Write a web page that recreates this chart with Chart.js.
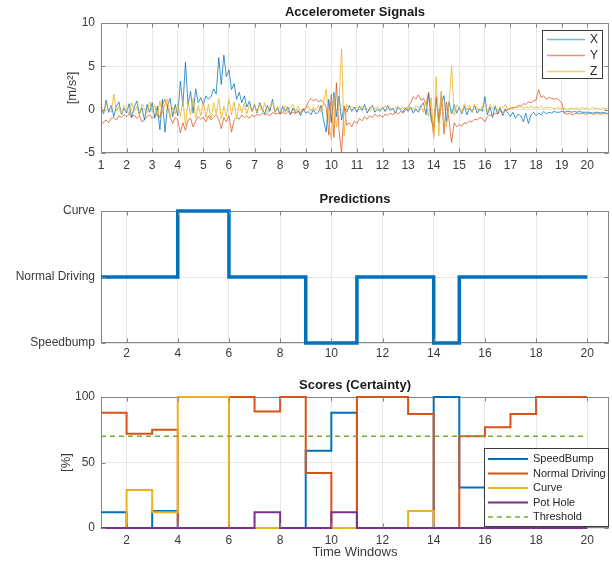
<!DOCTYPE html>
<html>
<head>
<meta charset="utf-8">
<title>Accelerometer Signals / Predictions / Scores</title>
<script src="https://cdn.jsdelivr.net/npm/chart.js@4.4.1/dist/chart.umd.min.js"></script>
<style>
  body { margin: 0; background: #fff; }
  #wrap { position: relative; width: 612px; height: 566px; }
  canvas { position: absolute; left: 0; display: block; }
</style>
</head>
<body>
<div id="wrap">
  <canvas id="accelChart" width="612" height="185" style="top:0"></canvas>
  <canvas id="predChart" width="612" height="185" style="top:185px"></canvas>
  <canvas id="scoreChart" width="612" height="196" style="top:370px"></canvas>
</div>
<script>
// --- accelerometer samples (one value every 0.1 window) ---
const accelStart = 1;
const accelStep = 0.1;
const accelX = [
  0.3, -0.5, 1.1, -0.3, 0.5, -0.8, 0.4, 0.9, -0.6, 0.2,
  -0.4, 0.7, -0.9, 0.3, 1.0, -0.5, 0.2, -1.2, 0.6, -0.3,
  0.8, -1.0, 0.4, -2.3, 1.2, -2.6, 0.5, 1.3, -0.8, 0.6,
  -0.7, 3.3, 0.4, 5.5, 0.6, 2.1, -0.4, 2.4, 0.8, 1.4,
  0.6, 1.6, 1.2, 1.5, 2.4, 1.8, 6.0, 2.9, 6.3, 3.8,
  4.6, 2.3, 3.0, 1.2, 2.0, 0.8, 1.6, 0.3, 1.0, -0.2,
  0.6, -0.4, 0.8, 0.1, -0.5, 0.5, -0.2, 1.2, -0.3, 0.2,
  -0.5, 0.4, -0.2, 0.3, -0.6, 0.2, -0.4, -0.1, -0.7, 0.1,
  -0.4, -0.2, -0.6, 0.0, -0.5, -0.3, 0.5, -1.3, -2.6, 1.2,
  -1.5, 2.0, -0.8, 1.6, -1.2, 0.4, -0.3, 0.5, -0.2, 0.3,
  -0.3, 0.4, -0.1, 0.6, -0.4, 0.2, 0.5, -0.3, 0.1, -0.2,
  0.3, -0.2, 0.5, -0.1, 0.2, -0.4, 0.3, 0.0, -0.3, 0.2,
  -0.2, 0.3, -0.4, 0.1, -0.3, 0.4, 0.8, -0.6, 1.9, -1.2,
  -2.0, 1.3, -1.5, 0.6, 1.6, -1.4, 0.9, -0.5, 0.6, -0.4,
  0.3, -0.5, 0.4, -0.6, 0.2, -0.3, 0.5, -0.4, 0.1, -0.2,
  1.5, -0.6, 0.3, -0.9, 0.4, -0.5, 0.2, -0.7, 0.1, -0.4,
  -0.8, -0.3, -1.0, -0.5, -0.7, -1.4, -0.4, -1.6, -0.6, -0.3,
  -0.7, -0.4, -0.6, -0.2, -0.5, -0.3, -0.4, -0.2, -0.3, -0.3,
  -0.2, -0.3, -0.2, -0.2, -0.3, -0.2, -0.3, -0.2, -0.3, -0.3,
  -0.3, -0.3, -0.4, -0.3, -0.3, -0.4, -0.3, -0.4, -0.4
];
const accelY = [
  -1.8, -1.4, -1.2, -1.5, -1.0, -0.9, -1.2, -0.7, -0.9, -0.6,
  -0.8, -0.5, -0.9, -0.6, -1.0, -0.7, -1.4, -1.2, -0.8, -0.6,
  -1.0, -0.7, -0.5, -0.9, 0.6, 1.2, 0.3, -0.8, -1.6, -0.9,
  -1.2, -2.7, -1.5, -2.4, -1.2, -1.0, -2.0, -1.3, -0.8, -1.1,
  -0.9, -1.4, -0.7, -1.2, -0.9, -0.6, -1.1, -2.2, -0.9, -1.4,
  -0.7, -2.6, -1.2, -0.9, -1.1, -0.6, -0.9, -0.7, -1.0, -0.6,
  -0.8, -0.5, -0.7, -0.4, -0.6, -0.5, -0.7, -0.3, -0.5, -0.4,
  -0.5, -0.3, -0.5, -0.2, -0.4, -0.3, -0.5, -0.2, -0.4, -0.1,
  0.2, 0.9, 1.3, 1.0, 1.2, 0.9, 1.1, 0.8, 0.3, -2.9,
  1.8, -3.2, 3.1, -2.4, -5.0, 0.4, -1.8, -1.5, -2.0, -1.3,
  -1.6, -1.0, -1.3, -0.8, -1.1, -0.7, -0.9, -0.5, -0.8, -0.6,
  -0.9, -0.5, -0.7, -0.4, -0.6, -0.3, -0.5, -0.2, -0.4, -0.1,
  0.3, 0.8, 1.5, 1.2, 1.7, 1.1, 1.3, 0.6, 2.0, -0.5,
  -3.0, 1.5, -1.0, 2.1, -2.8, 0.9, -1.2, -3.8, -1.5, -2.0,
  -1.7, -1.9, -1.5, -1.6, -1.3, -1.4, -1.1, -1.2, -0.9, -1.0,
  -1.4, -0.8, -0.6, -0.7, -0.4, -0.5, -0.2, -0.3, -0.1, 0.0,
  0.1, 0.3, 0.2, 0.5, 0.4, 0.7, 0.6, 0.9, 0.8, 1.0,
  1.1, 2.3, 1.4, 1.6, 1.2, 1.4, 1.3, 1.2, 1.3, 1.1,
  0.8, -0.4, -0.5, -0.4, -0.6, -0.5, -0.4, -0.5, -0.4, -0.5,
  -0.5, -0.4, -0.5, -0.5, -0.4, -0.5, -0.5, -0.4, -0.5
];
const accelZ = [
  0.1, -0.4, 0.6, 0.0, -0.3, 1.8, -0.2, 0.4, -0.6, 0.5,
  0.2, -0.5, 0.8, -0.2, 0.4, -0.7, 0.6, 0.1, -0.4, 0.9,
  -0.3, 0.5, -0.8, 1.0, -0.4, 0.7, 1.2, -0.9, 0.3, -0.5,
  0.6, -0.8, 1.1, -1.8, 0.9, -0.6, 1.3, -1.0, 0.5, -0.7,
  1.0, -0.9, 0.6, -1.2, 0.8, -0.5, 1.3, -1.1, 0.4, -0.8,
  1.2, -0.6, 0.9, -1.0, 0.7, -0.4, 0.8, -0.5, 0.6, -0.2,
  0.5, -0.3, 0.6, -0.2, 0.8, -0.4, 0.3, 0.9, -0.3, 0.4,
  0.2, -0.4, 0.5, -0.1, 0.3, 0.6, -0.2, 0.4, -0.3, 0.2,
  0.1, 0.4, -0.2, 0.3, 0.0, 0.5, -0.3, 0.8, 2.4, -1.2,
  -3.5, 1.5, -2.0, 0.8, 7.0, -3.0, 0.6, 0.2, 0.4, 0.1,
  0.3, 0.0, 0.4, 0.1, 0.2, -0.1, 0.3, 0.1, 0.4, 0.0,
  0.2, 0.4, 0.1, 0.3, 0.0, 0.2, 0.4, 0.1, 0.3, 0.2,
  0.1, 0.3, 0.0, 0.4, 0.2, 0.5, -0.3, 0.9, -0.8, 1.4,
  -3.3, 3.8, -3.0, 2.0, -1.2, -2.0, 0.8, 5.0, -0.6, 0.5,
  0.3, -0.4, 0.7, 0.0, 0.5, -0.3, 0.6, 0.2, -0.2, 0.4,
  0.8, -0.3, 0.6, 0.1, 0.5, -0.2, 0.4, 0.2, 0.6, 0.0,
  0.3, 0.1, 0.4, 0.2, 0.5, 0.1, 0.3, 0.2, 0.4, 0.2,
  0.3, 0.2, 0.4, 0.1, 0.3, 0.2, 0.3, 0.1, 0.2, 0.2,
  0.1, 0.2, 0.0, 0.1, 0.2, 0.1, 0.2, 0.0, 0.3, 0.1,
  0.2, 0.0, 0.3, 0.1, 0.2, 0.0, 0.2, 0.1, 0.2
];
const accelTicksX = [1, 2, 3, 4, 5, 6, 7, 8, 9, 10, 11, 12, 13, 14, 15, 16, 17, 18, 19, 20];
const accelTicksY = [-5, 0, 5, 10];

// --- predictions per time window ---
const windows = [1, 2, 3, 4, 5, 6, 7, 8, 9, 10, 11, 12, 13, 14, 15, 16, 17, 18, 19, 20];
const predLevels = ['Speedbump', 'Normal Driving', 'Curve'];
const predictions = [
  'Normal Driving', 'Normal Driving', 'Normal Driving', 'Curve', 'Curve',
  'Normal Driving', 'Normal Driving', 'Normal Driving', 'Speedbump', 'Speedbump',
  'Normal Driving', 'Normal Driving', 'Normal Driving', 'Speedbump', 'Normal Driving',
  'Normal Driving', 'Normal Driving', 'Normal Driving', 'Normal Driving', 'Normal Driving'
];
const windowTicks = [2, 4, 6, 8, 10, 12, 14, 16, 18, 20];

// --- scores (%) per time window ---
const scoreSpeedBump = [12, 0, 13, 0, 0, 0, 0, 0, 59, 88, 0, 0, 0, 100, 31, 23, 13, 0, 0, 0];
const scoreNormal    = [88, 72, 75, 0, 0, 100, 89, 100, 42, 0, 100, 100, 87, 0, 70, 77, 87, 100, 100, 100];
const scoreCurve     = [0, 29, 12, 100, 100, 0, 0, 0, 0, 0, 0, 0, 13, 0, 0, 0, 0, 0, 0, 0];
const scorePotHole   = [0, 0, 0, 0, 0, 0, 12, 0, 0, 12, 0, 0, 0, 0, 0, 0, 0, 0, 0, 0];
const threshold = 70;
const scoreTicksY = [0, 50, 100];

const FONT = '"Liberation Sans", Arial, Helvetica, sans-serif';
const X_MAX = 20.85;

Chart.defaults.font.family = FONT;
Chart.defaults.color = '#3a3a3a';
Chart.defaults.animation = false;

const fixedTicks = values => scale => { scale.ticks = values.map(v => ({ value: v })); };

function xAxis(tickValues, axisHeight, pad) {
  return {
    type: 'linear', min: 1, max: X_MAX,
    afterBuildTicks: fixedTicks(tickValues),
    afterFit: s => { s.height = axisHeight; },
    grid: { color: '#e6e6e6', drawTicks: false },
    border: { display: false },
    ticks: { padding: pad, font: { size: 12 }, maxRotation: 0, autoSkip: false }
  };
}

function yAxis(min, max, tickValues, cb) {
  return {
    min, max,
    afterBuildTicks: fixedTicks(tickValues),
    afterFit: s => { s.width = 101; },
    grid: { color: '#e6e6e6', drawTicks: false },
    border: { display: false },
    ticks: { padding: 6, font: { size: 12 }, autoSkip: false, callback: cb }
  };
}

// box, inward ticks, title, axis titles and in-axes legend (MATLAB look)
const subplotFrame = {
  id: 'subplotFrame',
  beforeDatasetsDraw(chart) {
    const { ctx, chartArea: a } = chart;
    ctx.save();
    ctx.strokeStyle = '#858585';
    ctx.lineWidth = 1;
    ctx.strokeRect(Math.round(a.left) + 0.5, Math.round(a.top) + 0.5,
      Math.round(a.right) - Math.round(a.left) - 1, Math.round(a.bottom) - Math.round(a.top) - 1);
    ctx.restore();
  },
  afterDraw(chart, args, opts) {
    const { ctx, chartArea: a, scales: { x, y } } = chart;
    const L = Math.round(a.left) + 0.5, R = Math.round(a.right) - 0.5;
    const T = Math.round(a.top) + 0.5, B = Math.round(a.bottom) - 0.5;
    ctx.save();
    ctx.strokeStyle = '#858585';
    ctx.lineWidth = 1;
    ctx.beginPath();
    x.ticks.forEach(t => {
      const px = Math.round(x.getPixelForValue(t.value)) + 0.5;
      ctx.moveTo(px, B); ctx.lineTo(px, B - 4);
      ctx.moveTo(px, T); ctx.lineTo(px, T + 4);
    });
    y.ticks.forEach(t => {
      const py = Math.round(y.getPixelForValue(t.value)) + 0.5;
      ctx.moveTo(L, py); ctx.lineTo(L + 4, py);
      ctx.moveTo(R, py); ctx.lineTo(R - 4, py);
    });
    ctx.stroke();

    ctx.textAlign = 'center';
    ctx.textBaseline = 'middle';
    ctx.fillStyle = '#1a1a1a';
    ctx.font = 'bold 13px ' + FONT;
    ctx.fillText(opts.title, (a.left + a.right) / 2, opts.titleY);

    ctx.fillStyle = '#3a3a3a';
    ctx.font = '13px ' + FONT;
    if (opts.yTitle) {
      ctx.save();
      ctx.translate(opts.yTitleX, (a.top + a.bottom) / 2);
      ctx.rotate(-Math.PI / 2);
      ctx.fillText(opts.yTitle, 0, 0);
      ctx.restore();
    }
    if (opts.xTitle) ctx.fillText(opts.xTitle, (a.left + a.right) / 2, opts.xTitleY);

    const lg = opts.legend;
    if (lg) {
      ctx.fillStyle = '#fff';
      ctx.fillRect(lg.x, lg.y, lg.w, lg.h);
      ctx.strokeStyle = '#3c3c3c';
      ctx.lineWidth = 1;
      ctx.strokeRect(lg.x + 0.5, lg.y + 0.5, lg.w, lg.h);
      ctx.font = lg.fontSize + 'px ' + FONT;
      ctx.textAlign = 'left';
      chart.data.datasets.forEach((ds, i) => {
        const cy = lg.y + lg.firstRow + i * lg.rowH;
        ctx.strokeStyle = lg.colors ? lg.colors[i] : ds.borderColor;
        ctx.lineWidth = lg.lineWidth || ds.borderWidth;
        ctx.setLineDash(ds.borderDash || []);
        ctx.beginPath();
        ctx.moveTo(lg.x + lg.lineFrom, cy);
        ctx.lineTo(lg.x + lg.lineTo, cy);
        ctx.stroke();
        ctx.setLineDash([]);
        ctx.fillStyle = '#262626';
        ctx.fillText(ds.label, lg.x + lg.textX, cy);
      });
    }
    ctx.restore();
  }
};

// ---------- Accelerometer Signals ----------
const toXY = vals => vals.map((v, i) => ({ x: +(accelStart + i * accelStep).toFixed(2), y: v }));
const accelColors = ['rgba(0,114,189,0.75)', 'rgba(217,83,25,0.75)', 'rgba(237,177,32,0.8)'];
new Chart(document.getElementById('accelChart'), {
  type: 'line',
  data: {
    datasets: [
      { label: 'X', data: toXY(accelX), borderColor: accelColors[0], borderWidth: 1, pointRadius: 0, order: 3, clip: false },
      { label: 'Y', data: toXY(accelY), borderColor: accelColors[1], borderWidth: 1, pointRadius: 0, order: 2, clip: false },
      { label: 'Z', data: toXY(accelZ), borderColor: accelColors[2], borderWidth: 1, pointRadius: 0, order: 1, clip: false }
    ]
  },
  options: {
    responsive: false,
    devicePixelRatio: 1,
    layout: { padding: { top: 23, right: 3, left: 0, bottom: 0 } },
    scales: {
      x: xAxis(accelTicksX, 32, 5),
      y: yAxis(-5, 10, accelTicksY)
    },
    plugins: {
      legend: { display: false },
      tooltip: { enabled: false },
      subplotFrame: {
        title: 'Accelerometer Signals', titleY: 12.5,
        yTitle: '[m/s²]', yTitleX: 72,
        legend: {
          x: 542, y: 30, w: 60, h: 48, firstRow: 9.5, rowH: 16,
          lineFrom: 5, lineTo: 43, textX: 48, fontSize: 12, lineWidth: 1.5,
          colors: ['rgba(77,166,224,0.8)', 'rgba(230,120,80,0.8)', 'rgba(240,195,80,0.85)']
        }
      }
    }
  },
  plugins: [subplotFrame]
});

// ---------- Predictions ----------
new Chart(document.getElementById('predChart'), {
  type: 'line',
  data: {
    datasets: [{
      label: 'Prediction',
      data: windows.map((w, i) => ({ x: w, y: predLevels.indexOf(predictions[i]) })),
      borderColor: '#0072BD', borderWidth: 3.5, pointRadius: 0, stepped: 'before', clip: false
    }]
  },
  options: {
    responsive: false,
    devicePixelRatio: 1,
    layout: { padding: { top: 26, right: 3, left: 0, bottom: 0 } },
    scales: {
      x: xAxis(windowTicks, 27, 3),
      y: yAxis(0, 2, [0, 1, 2], v => predLevels[v])
    },
    plugins: {
      legend: { display: false },
      tooltip: { enabled: false },
      subplotFrame: { title: 'Predictions', titleY: 14 }
    }
  },
  plugins: [subplotFrame]
});

// ---------- Scores (Certainty) ----------
const stepSeries = (label, vals, color, order) => ({
  label, data: windows.map((w, i) => ({ x: w, y: vals[i] })),
  borderColor: color, borderWidth: 2, pointRadius: 0, stepped: 'before', order, clip: false
});
new Chart(document.getElementById('scoreChart'), {
  type: 'line',
  data: {
    datasets: [
      stepSeries('SpeedBump', scoreSpeedBump, '#0072BD', 5),
      stepSeries('Normal Driving', scoreNormal, '#D95319', 4),
      stepSeries('Curve', scoreCurve, '#EDB120', 3),
      stepSeries('Pot Hole', scorePotHole, '#7E2F8E', 2),
      {
        label: 'Threshold',
        data: [{ x: windows[0], y: threshold }, { x: windows[windows.length - 1], y: threshold }],
        borderColor: '#77AC30', borderWidth: 1.5, borderDash: [5, 4], pointRadius: 0, order: 1, clip: false
      }
    ]
  },
  options: {
    responsive: false,
    devicePixelRatio: 1,
    layout: { padding: { top: 27, right: 3, left: 0, bottom: 0 } },
    scales: {
      x: xAxis(windowTicks, 38, 5),
      y: yAxis(0, 100, scoreTicksY)
    },
    plugins: {
      legend: { display: false },
      tooltip: { enabled: false },
      subplotFrame: {
        title: 'Scores (Certainty)', titleY: 15,
        yTitle: '[%]', yTitleX: 66,
        xTitle: 'Time Windows', xTitleY: 182.5,
        legend: {
          x: 484, y: 78, w: 124, h: 78, firstRow: 11, rowH: 14.5,
          lineFrom: 4, lineTo: 44, textX: 49, fontSize: 11
        }
      }
    }
  },
  plugins: [subplotFrame]
});
</script>
</body>
</html>
